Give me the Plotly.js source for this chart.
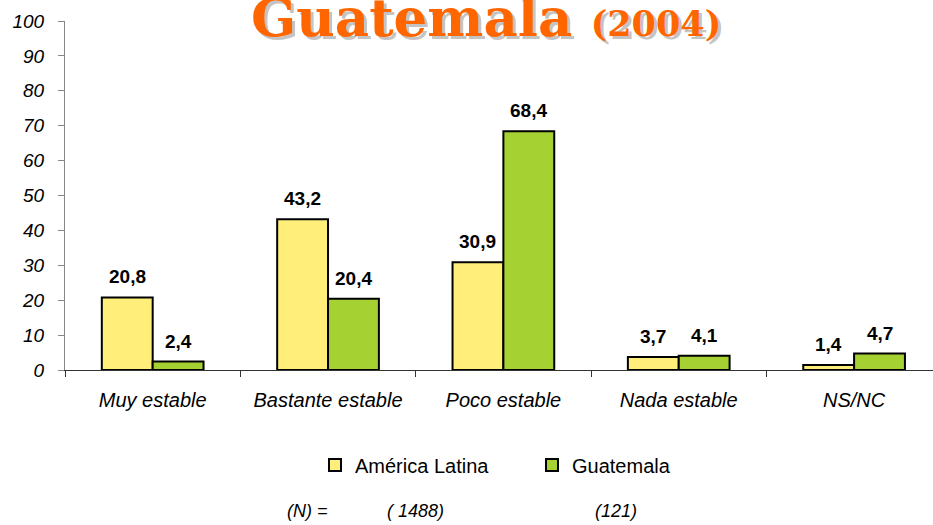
<!DOCTYPE html>
<html>
<head>
<meta charset="utf-8">
<script src="https://cdn.plot.ly/plotly-3.0.1.min.js"></script>
<style>
  html, body { margin: 0; padding: 0; background: #fff; }
  #chart { width: 933px; height: 525px; }
</style>
</head>
<body>
<div id="chart"></div>
<script>
/** ------------------------- Data ------------------------ **/
let categories = ["Muy estable", "Bastante estable", "Poco estable", "Nada estable", "NS/NC"];
let latam = [20.8, 43.2, 30.9, 3.7, 1.4];
let guate = [2.4, 20.4, 68.4, 4.1, 4.7];
let seriesNames = ["América Latina", "Guatemala"];
let sampleLabel = "(N) =";
let sampleSizes = ["( 1488)", "(121)"];
let yTicks = [0, 10, 20, 30, 40, 50, 60, 70, 80, 90, 100];

/* value labels use a comma as decimal mark */
function fmt(v) {
    return v.toFixed(1).replace(".", ",");
}

let trace_latam = {
    x: categories,
    y: latam,
    type: "bar",
    name: seriesNames[0],
    marker: {color: "#FFEF7A", line: {color: "#000", width: 2}},
    hoverinfo: "none"
};

let trace_guate = {
    x: categories,
    y: guate,
    type: "bar",
    name: seriesNames[1],
    marker: {color: "#A6D133", line: {color: "#000", width: 2}},
    hoverinfo: "none"
};

// plot area: 65..933 px wide, 21..370 px tall
let plotH = 349;
function paperY(px) { return (370 - px) / plotH; }
function paperX(px) { return (px - 65) / 868; }

/** labels above bars **/
let annots = [];
let half = 0.145;
let valFont = {family: "Liberation Sans, Arial, sans-serif", size: 19, color: "#000"};
for (let i = 0; i < categories.length; i++) {
    annots.push({x: i - half, y: latam[i], xref: "x", yref: "y", text: "<b>" + fmt(latam[i]) + "</b>",
        showarrow: false, yanchor: "bottom", yshift: 8, font: valFont});
    annots.push({x: i + half, y: guate[i], xref: "x", yref: "y", text: "<b>" + fmt(guate[i]) + "</b>",
        showarrow: false, yanchor: "bottom", yshift: 8, font: valFont});
}

/* (N) line under the legend */
let nFont = {family: "Liberation Sans, Arial, sans-serif", size: 18, color: "#000"};
let nX = [307, 415, 616];
let nText = [sampleLabel].concat(sampleSizes);
for (let j = 0; j < nText.length; j++) {
    annots.push({x: paperX(nX[j]), y: paperY(511), xref: "paper", yref: "paper", text: "<i>" + nText[j] + "</i>",
        showarrow: false, xanchor: "center", yanchor: "middle", font: nFont});
}

/* title with its grey shadow */
let titleText = "<b>Guatemala <span style='font-size:35px'>(2004)</span></b>";
annots.push({x: paperX(486), y: paperY(-16), xref: "paper", yref: "paper", text: titleText,
    showarrow: false, xanchor: "center", yanchor: "top", xshift: 3, yshift: -3,
    font: {family: "DejaVu Serif, serif", size: 53, color: "#C4C4C4"}});
annots.push({x: paperX(486), y: paperY(-16), xref: "paper", yref: "paper", text: titleText,
    showarrow: false, xanchor: "center", yanchor: "top",
    font: {family: "DejaVu Serif, serif", size: 53, color: "#FF6600"}});

let xTickFont = {family: "Liberation Sans, Arial, sans-serif", size: 20, color: "#000", style: "italic"};
let yTickFont = {family: "Liberation Sans, Arial, sans-serif", size: 19, color: "#000", style: "italic"};

let layout = {
    width: 933,
    height: 525,
    margin: {l: 65, r: 0, t: 21, b: 155},
    paper_bgcolor: "#fff",
    plot_bgcolor: "#fff",
    barmode: "group",
    bargap: 0.42,
    bargroupgap: 0,
    showlegend: true,
    legend: {
        orientation: "h",
        x: paperX(532), xanchor: "center",
        y: paperY(465), yanchor: "middle",
        font: {family: "Liberation Sans, Arial, sans-serif", size: 20, color: "#000"},
        entrywidth: 172,
        itemclick: false
    },
    xaxis: {
        range: [-0.5, 4.45],
        tickson: "boundaries",
        ticks: "outside",
        ticklen: 6,
        tickcolor: "#333",
        showline: true,
        linecolor: "#333",
        linewidth: 1,
        showgrid: false,
        zeroline: false,
        ticklabelstandoff: 12,
        tickfont: xTickFont,
        fixedrange: true
    },
    yaxis: {
        range: [0, 100],
        tickvals: yTicks,
        ticks: "outside",
        ticklen: 6,
        tickcolor: "#888",
        showline: true,
        linecolor: "#888",
        linewidth: 1,
        showgrid: false,
        zeroline: false,
        ticklabelstandoff: 10,
        tickfont: yTickFont,
        fixedrange: true
    },
    annotations: annots
};

Plotly.newPlot("chart", [trace_latam, trace_guate], layout, {displayModeBar: false, staticPlot: true});
</script>
</body>
</html>
